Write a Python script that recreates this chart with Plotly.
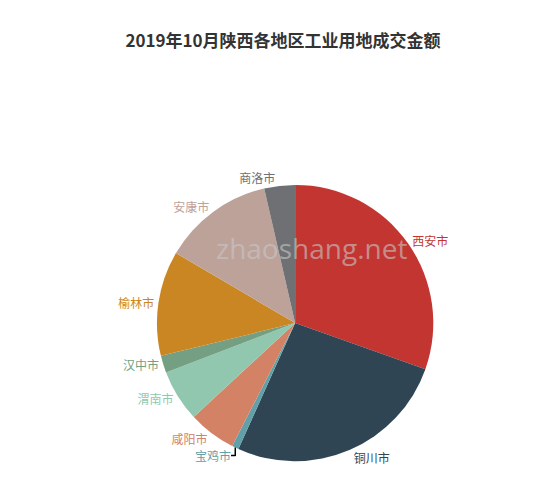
import plotly.graph_objects as go

cities = ["西安市", "铜川市", "宝鸡市", "咸阳市", "渭南市", "汉中市", "榆林市", "安康市", "商洛市"]
values = [30.5, 26.4, 0.8, 5.6, 6.1, 2.0, 12.3, 13.0, 3.6]
colors = ["#c23531", "#2f4554", "#61a0a8", "#d48265", "#91c7ae", "#749f83", "#ca8622", "#bda29a", "#6e7074"]

fig = go.Figure(go.Pie(
    labels=cities, values=values, sort=False, direction="clockwise", rotation=0,
    marker=dict(colors=colors, line=dict(width=0)),
    textinfo="label", textposition="outside",
    textfont=dict(color=colors, size=12, family="Noto Sans CJK SC"),
    hoverinfo="label+value", showlegend=False,
    domain=dict(x=[0.012, 0.912], y=[0.075, 0.639]),
))
fig.update_layout(
    width=550, height=490, margin=dict(l=0, r=0, t=0, b=0),
    paper_bgcolor="white",
    title=dict(text="<b>2019年10月陕西各地区工业用地成交金额</b>", x=0.5, y=0.945, xanchor="center",
               font=dict(size=17, color="#333", family="Noto Sans CJK SC")),
    annotations=[dict(text="zhaoshang.net", x=0.5, y=0.51, xref="paper", yref="paper", showarrow=False,
                      font=dict(size=28, color="rgba(200,200,200,0.6)", family="Open Sans"))],
)
fig.write_html("out.html")
